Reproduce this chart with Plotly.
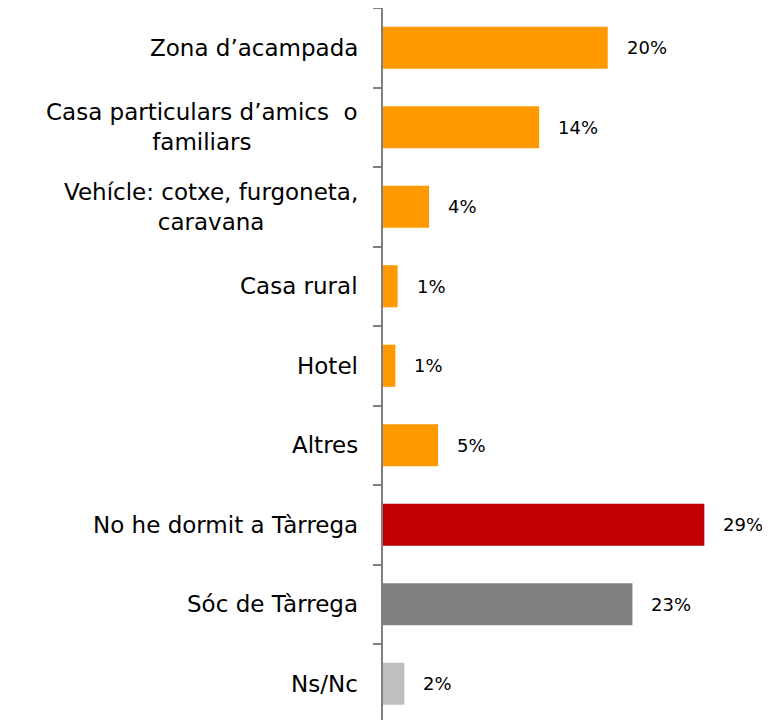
import plotly.graph_objects as go

categories = [
    "Zona d’acampada",
    "Casa particulars d’amics  o<br>familiars",
    "Vehícle: cotxe, furgoneta,<br>caravana",
    "Casa rural",
    "Hotel",
    "Altres",
    "No he dormit a Tàrrega",
    "Sóc de Tàrrega",
    "Ns/Nc",
]
values = [20.0, 13.9, 4.1, 1.3, 1.1, 4.9, 28.6, 22.2, 1.9]
value_labels = ["20%", "14%", "4%", "1%", "1%", "5%", "29%", "23%", "2%"]
colors = ["#FF9900"] * 6 + ["#C00000", "#808080", "#BFBFBF"]

FONT = "DejaVu Sans"

fig = go.Figure()
fig.add_trace(go.Bar(
    x=values,
    y=categories,
    orientation="h",
    marker=dict(color=colors, line=dict(width=0)),
    hoverinfo="skip",
))

annotations = []
for cat, v, lab in zip(categories, values, value_labels):
    annotations.append(dict(
        x=v, y=cat, xref="x", yref="y", text=lab, showarrow=False,
        xanchor="left", yanchor="middle", xshift=17,
        font=dict(family=FONT, size=18, color="#000000"),
    ))
    annotations.append(dict(
        x=0, y=cat, xref="x", yref="y", text=cat, showarrow=False,
        xanchor="right", yanchor="middle", xshift=-23, align="center",
        font=dict(family=FONT, size=23, color="#000000"),
    ))

n = len(categories)
fig.update_layout(
    width=762, height=712,
    margin=dict(l=375, r=5, t=0, b=0, autoexpand=False),
    plot_bgcolor="white", paper_bgcolor="white",
    bargap=0.47,
    showlegend=False,
    annotations=annotations,
    xaxis=dict(range=[0, 34], visible=False),
    yaxis=dict(
        type="category",
        categoryorder="array", categoryarray=categories,
        range=[n - 0.5 - 3.5 / 79.5, -0.5],
        showticklabels=False,
        tickson="boundaries",
        ticks="outside", ticklen=8, tickwidth=1.5, tickcolor="#808080",
        showline=True, linecolor="#808080", linewidth=1.5,
        showgrid=False, zeroline=False, automargin=False,
    ),
)

fig.write_html("out.html")
